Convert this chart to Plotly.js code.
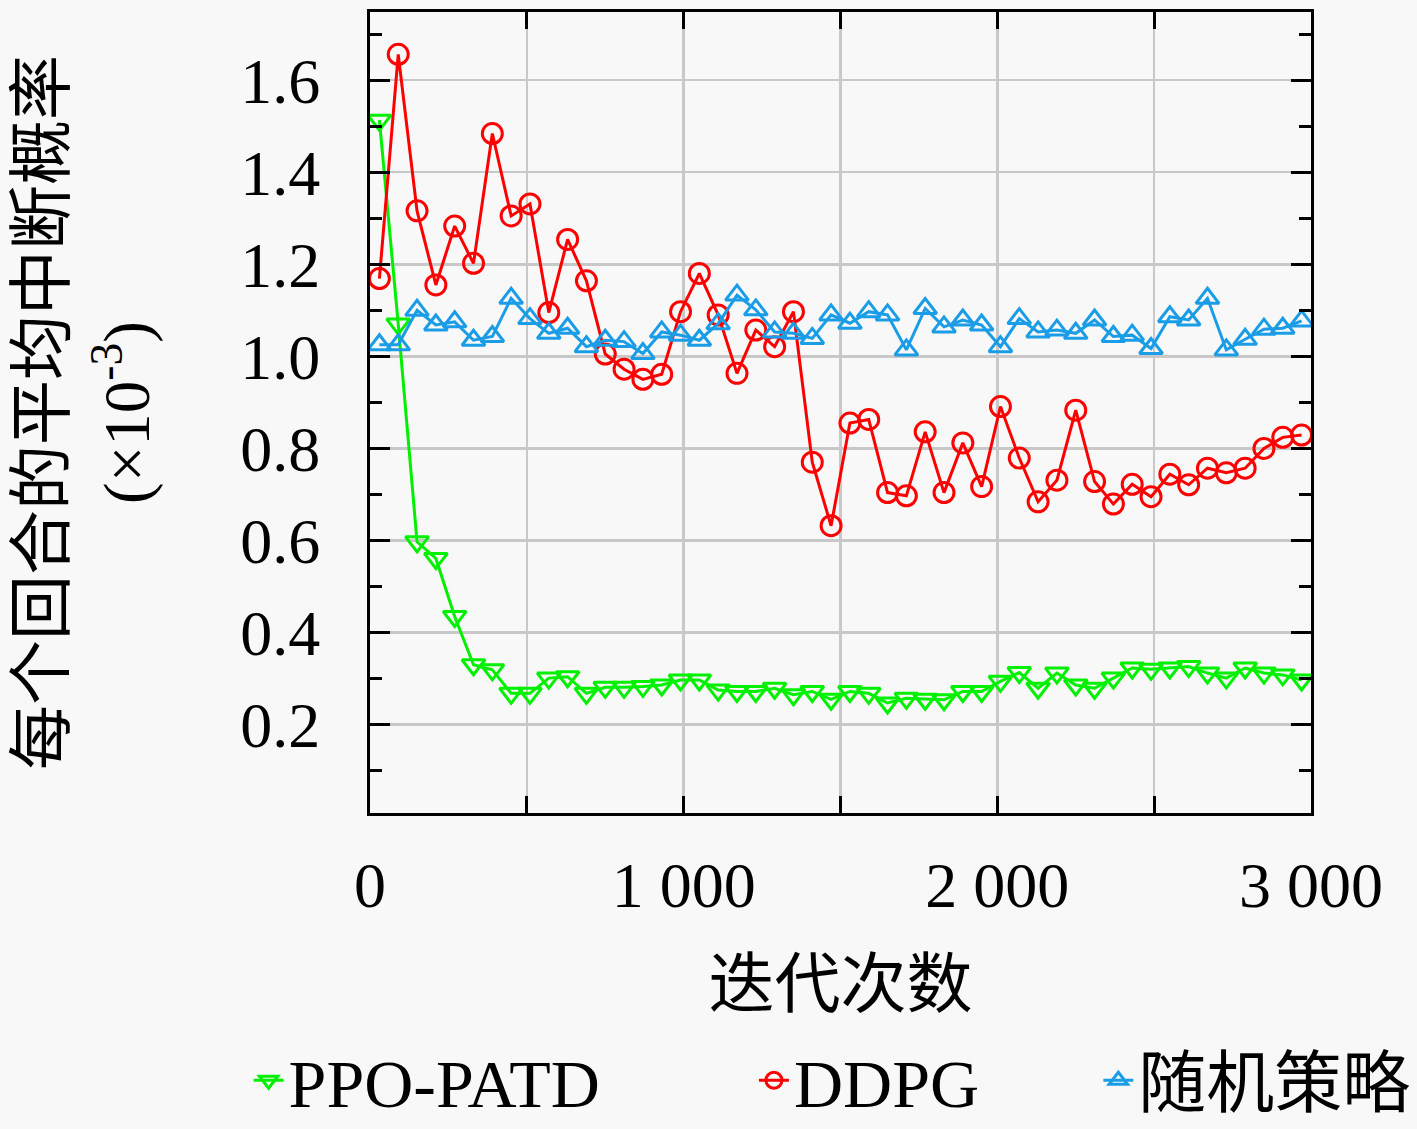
<!DOCTYPE html>
<html>
<head>
<meta charset="utf-8">
<script src="https://cdn.plot.ly/plotly-3.0.1.min.js"></script>
<style>
  html, body { margin: 0; padding: 0; background: #f8f8f8; overflow: hidden; }
  #chart { width: 1417px; height: 1129px; }
</style>
</head>
<body>
<div id="chart"></div>
<script>
// iteration index of each sample
const iters = [30, 90, 150, 210, 270, 330, 390, 450, 510, 570,
  630, 690, 750, 810, 870, 930, 990, 1050, 1110, 1170,
  1230, 1290, 1350, 1410, 1470, 1530, 1590, 1650, 1710, 1770,
  1830, 1890, 1950, 2010, 2070, 2130, 2190, 2250, 2310, 2370,
  2430, 2490, 2550, 2610, 2670, 2730, 2790, 2850, 2910, 2970];

// average outage probability per episode (x 1e-3)
const ppoPatd = [1.513, 1.07, 0.597, 0.561, 0.435, 0.330, 0.319, 0.268, 0.268, 0.301,
  0.304, 0.268, 0.281, 0.281, 0.283, 0.286, 0.297, 0.297, 0.275, 0.272,
  0.272, 0.279, 0.265, 0.272, 0.255, 0.272, 0.268, 0.247, 0.257, 0.255,
  0.254, 0.272, 0.272, 0.294, 0.313, 0.279, 0.312, 0.286, 0.279, 0.301,
  0.323, 0.320, 0.323, 0.326, 0.312, 0.301, 0.323, 0.312, 0.308, 0.297];

const ddpg = [1.169, 1.656, 1.316, 1.155, 1.283, 1.202, 1.484, 1.305, 1.331, 1.095,
  1.254, 1.164, 1.005, 0.972, 0.950, 0.961, 1.097, 1.180, 1.090, 0.963,
  1.057, 1.021, 1.097, 0.770, 0.632, 0.855, 0.863, 0.704, 0.697, 0.836,
  0.704, 0.812, 0.717, 0.891, 0.779, 0.684, 0.731, 0.883, 0.728, 0.679,
  0.722, 0.695, 0.744, 0.721, 0.757, 0.747, 0.757, 0.800, 0.824, 0.829];

const randomPolicy = [1.025, 1.025, 1.100, 1.068, 1.075, 1.035, 1.043, 1.126, 1.082, 1.050,
  1.061, 1.021, 1.035, 1.032, 1.006, 1.053, 1.046, 1.035, 1.071, 1.133,
  1.101, 1.053, 1.050, 1.039, 1.090, 1.072, 1.097, 1.090, 1.014, 1.104,
  1.064, 1.079, 1.068, 1.021, 1.082, 1.053, 1.057, 1.050, 1.079, 1.043,
  1.046, 1.017, 1.086, 1.079, 1.126, 1.014, 1.037, 1.059, 1.061, 1.077];

const seriesNames = ['PPO-PATD', 'DDPG', '随机策略'];
const xTickVals = [0, 1000, 2000, 3000];
const xTickText = ['0', '1 000', '2 000', '3 000'];

const FONT = '"Liberation Serif", "Noto Sans CJK SC", serif';

function line(name, y, color, symbol, legendId) {
  return {
    x: iters, y: y, name: name, legend: legendId,
    type: 'scatter', mode: 'lines+markers',
    line: { color: color, width: 3 },
    marker: { symbol: symbol, size: 20, color: color, line: { width: 3, color: color } }
  };
}

const traces = [
  line(seriesNames[0], ppoPatd, '#00f000', 'triangle-down-open', 'legend'),
  line(seriesNames[1], ddpg, '#ff0000', 'circle-open', 'legend2'),
  line(seriesNames[2], randomPolicy, '#1a9de6', 'triangle-up-open', 'legend3')
];

const axisCommon = {
  automargin: false,
  showline: true, linecolor: '#000', linewidth: 3, mirror: 'ticks',
  ticks: 'inside', tickcolor: '#000', tickwidth: 3, ticklen: 20,
  showgrid: true, gridcolor: '#c8c8c8', gridwidth: 2.5,
  zeroline: false,
  tickfont: { family: FONT, size: 64, color: '#000' }
};

function legendAt(x) {
  return {
    orientation: 'h', x: x, xanchor: 'left', y: -0.334, yanchor: 'middle',
    bgcolor: 'rgba(0,0,0,0)', font: { family: FONT, size: 68 }
  };
}

const layout = {
  width: 1417, height: 1129,
  paper_bgcolor: '#f8f8f8', plot_bgcolor: '#f8f8f8',
  margin: { l: 370, r: 106, t: 12, b: 316, autoexpand: false },
  font: { family: FONT, color: '#000' },
  xaxis: Object.assign({}, axisCommon, {
    range: [0, 3000],
    tickmode: 'array', tickvals: xTickVals, ticktext: xTickText,
    ticklen: 17,
    ticklabelstandoff: 14,
    minor: { tickvals: [500, 1500, 2500], ticks: 'inside', ticklen: 17, tickwidth: 3, tickcolor: '#000',
      showgrid: true, gridcolor: '#c8c8c8', gridwidth: 2.5 },
    title: { text: '迭代次数', font: { family: FONT, size: 66 }, standoff: 42 }
  }),
  yaxis: Object.assign({}, axisCommon, {
    range: [0.008, 1.748],
    tick0: 0, dtick: 0.2, tickformat: '.1f',
    ticklabelstandoff: 34,
    minor: { dtick: 0.1, ticks: 'inside', ticklen: 12, tickwidth: 3, tickcolor: '#000', showgrid: false },
    title: { text: '每个回合的平均中断概率<br>(×10<sup>-3</sup>)', font: { family: FONT, size: 65 }, standoff: 70 }
  }),
  showlegend: true,
  legend: legendAt(-0.129),
  legend2: legendAt(0.408),
  legend3: legendAt(0.774)
};

Plotly.newPlot('chart', traces, layout, { displayModeBar: false, staticPlot: true });
</script>
</body>
</html>
